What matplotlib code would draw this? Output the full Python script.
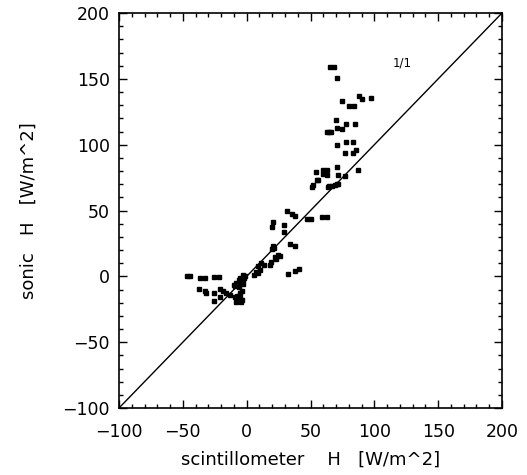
import matplotlib
matplotlib.use("Agg")
import matplotlib.pyplot as plt
from matplotlib.ticker import MultipleLocator

# --- Data ---
scint_h = [
    # left cluster
    -47, -44, -36.5, -32.5, -25.5, -22,
    -37.5, -33, -31.5, -25.6, -21, -18.4, -16.2, -25.4, -21, -13,
    # around origin
    -9.2, -6.6, -4, -8, -4.6, -7.2, -5.4, -5.4, -4,
    -10, -9, -8, -7, -6, -5, -4, -3, -2, -1.5, -6, -3, -5, -2.5,
    # small positive
    6, 7.5, 8.8, 8.8, 10.5, 11.5, 13.6, 18.1, 19, 23, 24.7, 26, 22.2,
    20.3, 19.6, 21.3,
    # mid range
    20.8, 19.6, 29.2, 29.4, 33.8, 37.8, 31.2, 35.2, 37.8,
    32.6, 37.8, 41.2,
    46.9, 50.1, 58.7, 63.1,
    # upper range
    50.8, 52.1, 54.8, 54, 56.1, 59.4, 62.6, 59.4, 63, 63.9, 66.6, 70.5,
    71, 71.7, 77, 87.4,
    64.7, 69.1, 71.7,
    64.1, 70.5, 74.4, 70, 77.8, 84.8, 63, 66,
    70.5, 77.8, 83.5, 77, 83.5, 85.3,
    74.9, 80, 84, 88, 90, 97.1,
    65, 68.5, 70.9,
]
sonic_h = [
    0, 0, -1.5, -1.5, -0.3, -0.3,
    -9.5, -11.5, -12.5, -12.4, -9.9, -11.2, -12.4, -19, -15.5, -14,
    -16, -18.3, -18.3, -19.3, -19.3, -15, -16.8, -13, -10.9,
    -6.5, -7, -5, -6, -3, -4, -2, -3, -1, 0.5, -8, -6, -1, 1,
    1, 3.5, 7.8, 2.3, 4.8, 9.9, 8.6, 8.6, 11.1, 12.9, 16.2, 15.4, 14.9,
    23, 20.5, 21.7,
    41.5, 37.2, 39, 33.9, 24.5, 22.9, 49.9, 47.3, 46,
    1.7, 4.3, 5.3,
    43.3, 43.3, 44.8, 44.8,
    68, 69.3, 73.1, 79, 73.1, 80.7, 80.7, 77.4, 76.9, 68, 68.8, 69.9,
    82.9, 76.9, 76.4, 80.7,
    68.5, 69.3, 70.1,
    110, 113, 111.6, 118.7, 115.6, 115.6, 109.8, 109.8,
    100, 102, 102, 93.4, 93.4, 95.9,
    133.3, 129.5, 129.5, 137, 134.6, 135.6,
    158.7, 158.7, 150.6,
]
one_to_one = [-100, 200]

# --- Plotting ---
plt.rcParams["font.family"] = ["DejaVu Sans"]
fig = plt.figure(figsize=(5.27, 4.75), dpi=100)
ax = fig.add_axes([0.2258, 0.141, 0.9526 - 0.2258, 0.9726 - 0.141])

ax.plot(one_to_one, one_to_one, color="black", linewidth=1.0)
ax.plot(scint_h, sonic_h, linestyle="none", marker="s", markersize=2.3,
        color="black")
ax.text(114, 159, "1/1", fontsize=8.5)

ax.set_xlim(-100, 200)
ax.set_ylim(-100, 200)
ax.xaxis.set_major_locator(MultipleLocator(50))
ax.yaxis.set_major_locator(MultipleLocator(50))
ax.xaxis.set_minor_locator(MultipleLocator(10))
ax.yaxis.set_minor_locator(MultipleLocator(10))
ax.tick_params(which="both", direction="in", top=True, right=True,
               labelsize=12.5, width=1)
ax.tick_params(axis="x", which="both", pad=11)
ax.tick_params(axis="y", which="both", pad=6.5)
ax.tick_params(which="major", length=6)
ax.tick_params(which="minor", length=3)
for sp in ax.spines.values():
    sp.set_linewidth(1.2)

ax.set_xlabel("scintillometer    H   [W/m^2]", fontsize=13, labelpad=7)
ax.set_ylabel("sonic   H   [W/m^2]", fontsize=13, labelpad=18)

fig.savefig("out.png", dpi=100)
